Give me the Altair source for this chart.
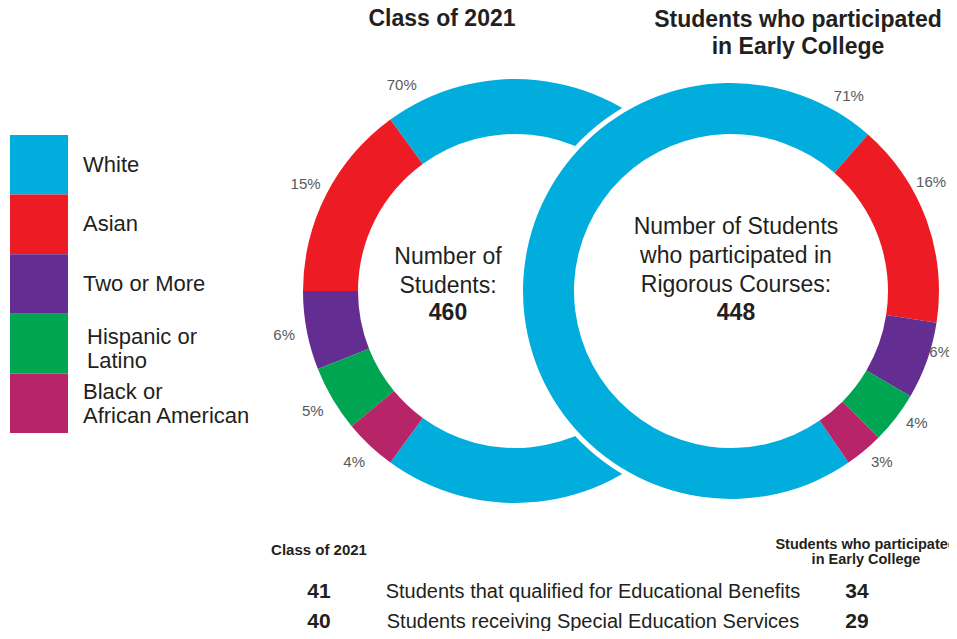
import math
import altair as alt
import pandas as pd

# ---------------- data ----------------
races = ["White", "Asian", "Two or More", "Hispanic or Latino", "Black or African American"]
legend_labels = ["White", "Asian", "Two or More", "Hispanic or\nLatino", "Black or\nAfrican American"]
race_colors = ["#00ADDC", "#ED1C24", "#632D91", "#00A551", "#B72468"]

class_pct = [70, 15, 6, 5, 4]          # Class of 2021
ec_pct = [71, 16, 6, 4, 3]             # Students who participated in Early College

# clockwise drawing order of the segments in each ring
class_order = ["White", "Black or African American", "Hispanic or Latino", "Two or More", "Asian"]
ec_order = ["Asian", "Two or More", "Hispanic or Latino", "Black or African American", "White"]

class_total = 460
ec_total = 448

table_rows = ["Students that qualified for Educational Benefits",
              "Students receiving Special Education Services"]
class_counts = [41, 40]
ec_counts = [34, 29]

# ---------------- helpers ----------------
O = 8  # page margin: page coordinates -> chart coordinates
FONT = "Liberation Sans"
TXT = "#231F20"
race_scale = alt.Scale(domain=races, range=race_colors)


def ring_frame(pcts, order):
    return pd.DataFrame({
        "race": races,
        "pct": pcts,
        "ord": [order.index(r) for r in races],
        "label": [f"{p}%" for p in pcts],
    })


def donut(pcts, order, cx, cy, r_out, r_in, start_deg, radius_expr, white_label_expr, frac):
    a0 = math.radians(start_deg)
    th = alt.Scale(domain=[0, 100], range=[a0, a0 + 2 * math.pi], nice=False, zero=False)
    base = (
        alt.Chart(ring_frame(pcts, order))
        .transform_window(cum="sum(pct)", sort=[alt.SortField("ord")], frame=[None, 0])
        .transform_calculate(start="datum.cum - datum.pct")
        .transform_calculate(
            lpos=f"datum.race == 'White' ? ({white_label_expr}) : datum.start + {frac} * datum.pct",
            lr=radius_expr,
        )
    )
    arcs = base.mark_arc(radius=r_out, radius2=r_in, strokeWidth=0).encode(
        theta=alt.Theta("start:Q", scale=th),
        theta2="cum:Q",
        color=alt.Color("race:N", scale=race_scale, legend=None),
        x=alt.value(cx - O),
        y=alt.value(cy - O),
    )
    labels = base.mark_text(
        font=FONT, fontSize=15, color="#58595B", align="center", baseline="middle"
    ).encode(
        theta=alt.Theta("lpos:Q", scale=th),
        radius=alt.Radius("lr:Q", scale=None),
        text="label:N",
        x=alt.value(cx - O),
        y=alt.value(cy - O),
    )
    return alt.layer(arcs, labels)


one = pd.DataFrame({"k": [0]})


def note(text, x, y, size, bold=False, font=FONT, align="center", line_height=None, color=TXT):
    # y is the middle of the first line
    kw = dict(text=text, font=font, fontSize=size, fontWeight="bold" if bold else "normal",
              align=align, baseline="middle", color=color)
    if line_height:
        kw["lineBreak"] = "\n"
        kw["lineHeight"] = line_height
    return alt.Chart(one).mark_text(**kw).encode(x=alt.value(x - O), y=alt.value(y - O))


# ---------------- legend ----------------
leg_df = pd.DataFrame({"race": races, "lab": legend_labels})
leg_y = alt.Scale(domain=races, range=[135 - O, 433 - O], paddingInner=0, paddingOuter=0)
legend_rects = alt.Chart(leg_df).mark_rect(strokeWidth=0).encode(
    y=alt.Y("race:N", scale=leg_y, axis=None),
    x=alt.value(10 - O), x2=alt.value(68 - O),
    color=alt.Color("race:N", scale=race_scale, legend=None),
)


def legend_text(filter_expr, dx=0, dy=0):
    return alt.Chart(leg_df).transform_filter(filter_expr).mark_text(
        font=FONT, fontSize=22, align="left", baseline="middle", color=TXT,
        lineBreak="\n", lineHeight=24, dx=dx, dy=dy
    ).encode(
        y=alt.Y("race:N", scale=leg_y, axis=None),
        x=alt.value(83 - O),
        text="lab:N",
    )


legend = alt.layer(
    legend_rects,
    legend_text("indexof(datum.lab, '\\n') < 0"),
    legend_text("datum.race == 'Hispanic or Latino'", dx=4, dy=-6.5),
    legend_text("datum.race == 'Black or African American'", dy=-11.5),
)

# ---------------- donuts ----------------
left = donut(class_pct, class_order, 515, 291, 212, 157, -36, "235", "datum.start + 2", 0.5)
backdrop = alt.Chart(one).mark_arc(radius=213, radius2=0, theta=0, theta2=2 * math.pi,
                                   fill="white", strokeWidth=0).encode(
    x=alt.value(731 - O), y=alt.value(291 - O))
right = donut(ec_pct, ec_order, 731, 291, 208, 157, 41.2,
              "datum.race == 'Two or More' ? 218 : 228", "datum.cum - 2.8", 0.35)

# ---------------- table ----------------
tab_df = pd.DataFrame({"row": table_rows, "c": class_counts, "e": ec_counts})
tab_y = alt.Scale(type="point", domain=table_rows, range=[592 - O, 622 - O], padding=0)
tab_rows = alt.Chart(tab_df).mark_text(font=FONT, fontSize=20, color=TXT, baseline="middle").encode(
    y=alt.Y("row:N", scale=tab_y, axis=None), x=alt.value(593 - O), text="row:N")
tab_c = alt.Chart(tab_df).mark_text(font=FONT, fontSize=21, fontWeight="bold", color=TXT,
                                    baseline="middle").encode(
    y=alt.Y("row:N", scale=tab_y, axis=None), x=alt.value(319 - O), text="c:Q")
tab_e = alt.Chart(tab_df).mark_text(font=FONT, fontSize=21, fontWeight="bold", color=TXT,
                                    baseline="middle").encode(
    y=alt.Y("row:N", scale=tab_y, axis=None), x=alt.value(857 - O), text="e:Q")
table = alt.layer(tab_rows, tab_c, tab_e)

notes = [
    note("Class of 2021", 442, 19, 23, bold=True),
    note("Students who participated\nin Early College", 798, 20, 23, bold=True, line_height=27),
    note("Number of\nStudents:", 448, 257, 23, line_height=28.5),
    note(str(class_total), 448, 313, 23, bold=True),
    note("Number of Students\nwho participated in\nRigorous Courses:", 736, 227, 23, line_height=29),
    note(str(ec_total), 736, 313, 23, bold=True),
    note("Class of 2021", 319, 550, 15, bold=True),
    note("Students who participated\nin Early College", 866, 545, 14.5, bold=True, line_height=15),
]

chart = (
    alt.layer(legend, left, backdrop, right, table, *notes)
    .resolve_scale(theta="independent", y="independent")
    .properties(width=941, height=623, padding=0, autosize=alt.AutoSizeParams(type="none"))
    .configure_view(strokeWidth=0)
)

chart.save("out.html", embed_options={"renderer": "svg", "actions": False})
